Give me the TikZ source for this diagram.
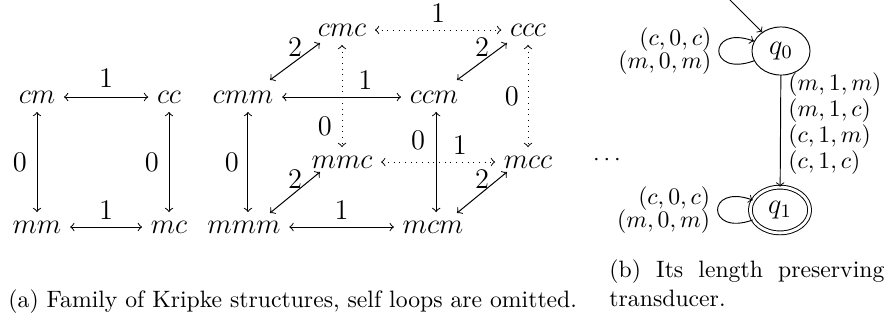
\documentclass[tikz,border=0pt]{standalone}
\usetikzlibrary{shapes.geometric,calc}
\begin{document}
\begin{tikzpicture}[x=0.422pt,y=-0.422pt,
  v/.style={inner sep=3.5pt,font=\large},
  lbl/.style={inner sep=0pt,font=\large},
  bi/.style={<->,line width=0.42pt},
  dbi/.style={<->,dotted,line width=0.4pt},
  st/.style={draw,ellipse,inner sep=0pt,minimum width=24.5pt,minimum height=20.3pt,font=\large},
  acc/.style={draw,ellipse,double,double distance=1.2pt,inner sep=0pt,minimum width=25pt,minimum height=19.3pt,font=\large}]
\useasboundingbox (0,0) rectangle (886,322);
% left square
\node[v] (cm) at (37,97) {$cm$};
\node[v] (cc) at (169,97) {$cc$};
\node[v] (mm) at (37,227) {$mm$};
\node[v] (mc) at (169,227) {$mc$};
\draw[bi] (cm) -- node[lbl,yshift=8pt]{$1$} (cc);
\draw[bi] (mm) -- node[lbl,yshift=6.9pt]{$1$} (mc);
\draw[bi] (cm) -- node[lbl,xshift=-7.2pt]{$0$} (mm);
\draw[bi] (cc) -- node[lbl,xshift=-7.2pt]{$0$} (mc);
% cube
\node[v] (cmc) at (342,30) {$cmc$};
\node[v] (ccc) at (528,30) {$ccc$};
\node[v] (cmm) at (243,97) {$cmm$};
\node[v] (ccm) at (434,97) {$ccm$};
\node[v] (mmc) at (342,162) {$mmc$};
\node[v] (mcc) at (528,162) {$mcc$};
\node[v] (mmm) at (244,227) {$mmm$};
\node[v] (mcm) at (433,227) {$mcm$};
\draw[dbi] (cmc) -- node[lbl,yshift=7.2pt]{$1$} (ccc);
\draw[bi] (cmm) -- node[lbl,pos=0.7,yshift=7.2pt]{$1$} (ccm);
\draw[dbi] (mmc) -- node[lbl,pos=0.69,yshift=7.2pt]{$1$} (mcc);
\draw[bi] (mmm) -- node[lbl,yshift=7pt]{$1$} (mcm);
\draw[bi] ([xshift=2.1pt]cmm.south) -- node[lbl,xshift=-6.8pt]{$0$} ([xshift=2.1pt]cmm.south |- mmm.north);
\draw[bi] ([xshift=0.9pt]ccm.south) -- node[lbl,pos=0.28,xshift=-7.6pt]{$0$} ([xshift=0.9pt]ccm.south |- mcm.north);
\draw[dbi] (cmc) -- node[lbl,pos=0.8,xshift=-7.2pt]{$0$} (mmc);
\draw[dbi] (ccc) -- node[lbl,xshift=-6.8pt]{$0$} (mcc);
\draw[bi] ($(cmm)+(27,-17)$) -- node[lbl,yshift=6.1pt]{$2$} ($(cmc)+(-22,13)$);
\draw[bi] ($(ccm)+(23,-17)$) -- node[lbl,yshift=6.1pt]{$2$} ($(ccc)+(-21,13)$);
\draw[bi] ($(mmm)+(26,-14)$) -- node[lbl,yshift=5.7pt]{$2$} ($(mmc)+(-22,10)$);
\draw[bi] ($(mcm)+(24,-14)$) -- node[lbl,yshift=5.7pt]{$2$} ($(mcc)+(-21,10)$);
\node (dots) at (607,160) {$\cdots$};
% transducer
\node[st] (q0) at (781,51) {$q_0$};
\node[acc] (q1) at (780,210) {$q_1$};
\coordinate (init) at (725,-5);
\draw[->] (init) -- (q0);
\draw[->] (q0.200) .. controls +(200:21pt) and +(160:21pt) .. node[left,align=right,inner sep=3pt]{$(c,0,c)$\\[-2.5pt]$(m,0,m)$} (q0.160);
\draw[->] (q1.200) .. controls +(200:21pt) and +(160:21pt) .. node[left,align=right,inner sep=3pt]{$(c,0,c)$\\[-2.5pt]$(m,0,m)$} (q1.160);
\draw[->] (q0) -- node[pos=0,anchor=north west,align=left,inner sep=1pt,xshift=2pt,yshift=2.5pt]{$(m,1,m)$\\[-1pt]$(m,1,c)$\\[-1pt]$(c,1,m)$\\[-1pt]$(c,1,c)$} (q1);
% captions
\node[anchor=base west,inner sep=0pt] (capa) at (8,307) {(a) Family of Kripke structures, self loops are omitted.};
\node[anchor=south west,inner sep=0pt,text width=116pt,align=justify] (capb) at (609,307) {(b) Its length preserving transducer.};
\end{tikzpicture}
\end{document}
